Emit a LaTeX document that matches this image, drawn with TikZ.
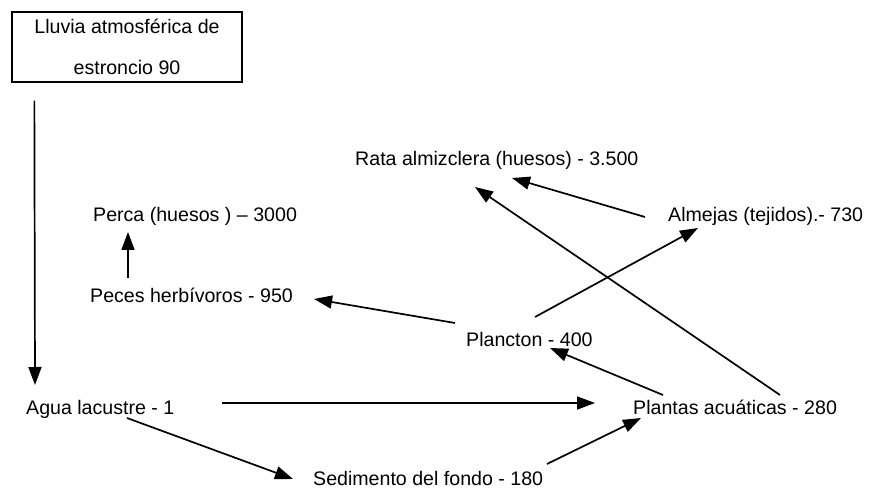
\documentclass[tikz,border=0pt]{standalone}
\usepackage{fontspec}
\setmainfont{Liberation Sans}
\usetikzlibrary{arrows.meta,positioning}

\begin{document}
\begin{tikzpicture}[x=1pt,y=-1pt,
    lbl/.style={inner sep=0pt,anchor=base west,font=\fontsize{19.6}{41}\selectfont},
    flow/.style={line width=1.7pt,-{Triangle[length=18pt,width=13pt]}}]
    \useasboundingbox (0,0) rectangle (879,489);

    % source box
    \node[draw,line width=1.3pt,minimum width=230pt,minimum height=70pt,inner sep=0pt,
          align=center,font=\fontsize{19.6}{41}\selectfont] (lluvia) at (127,47)
          {Lluvia atmosférica de\\estroncio 90};

    % levels
    \node[lbl] (agua) at (26,414) {Agua lacustre - 1};
    \node[lbl] (plantas) at (633,414) {Plantas acuáticas - 280};
    \node[lbl] (sedimento) at (313,485) {Sedimento del fondo - 180};
    \node[lbl] (plancton) at (466,346) {Plancton - 400};
    \node[lbl] (peces) at (90,303) {Peces herbívoros - 950};
    \node[lbl] (perca) at (93,222) {Perca (huesos ) – 3000};
    \node[lbl] (almejas) at (668,222) {Almejas (tejidos).- 730};
    \node[lbl] (rata) at (355,166) {Rata almizclera (huesos) - 3.500};

    % transfers
    \draw[flow] ([shift={(23,18)}]lluvia.south west) -- ([shift={(9,-29)}]agua.base west);
    \draw[flow] ([shift={(47,-11)}]agua.base east) -- ([shift={(-38,-11)}]plantas.base west);
    \draw[flow] ([shift={(101,4)}]agua.base west) -- ([shift={(-20,-6)}]sedimento.base west);
    \draw[flow] ([shift={(234,-21)}]sedimento.base west) -- ([shift={(8,4)}]plantas.base west);
    \draw[flow] ([shift={(30,-19)}]plantas.base west) -- ([shift={(84,2)}]plancton.base west);
    \draw[flow] ([shift={(147,-19)}]plantas.base west) -- ([shift={(120,21)}]rata.base west);
    \draw[flow] ([shift={(-11,-23)}]plancton.base west) -- ([shift={(21,-4)}]peces.base east);
    \draw[flow] ([shift={(69,-29)}]plancton.base west) -- ([shift={(30,6)}]almejas.base west);
    \draw[flow] ([shift={(-23,-5)}]almejas.base west) -- ([shift={(157,12)}]rata.base west);
    \draw[flow] ([shift={(38,-25)}]peces.base west) -- ([shift={(35,10)}]perca.base west);

\end{tikzpicture}
\end{document}
